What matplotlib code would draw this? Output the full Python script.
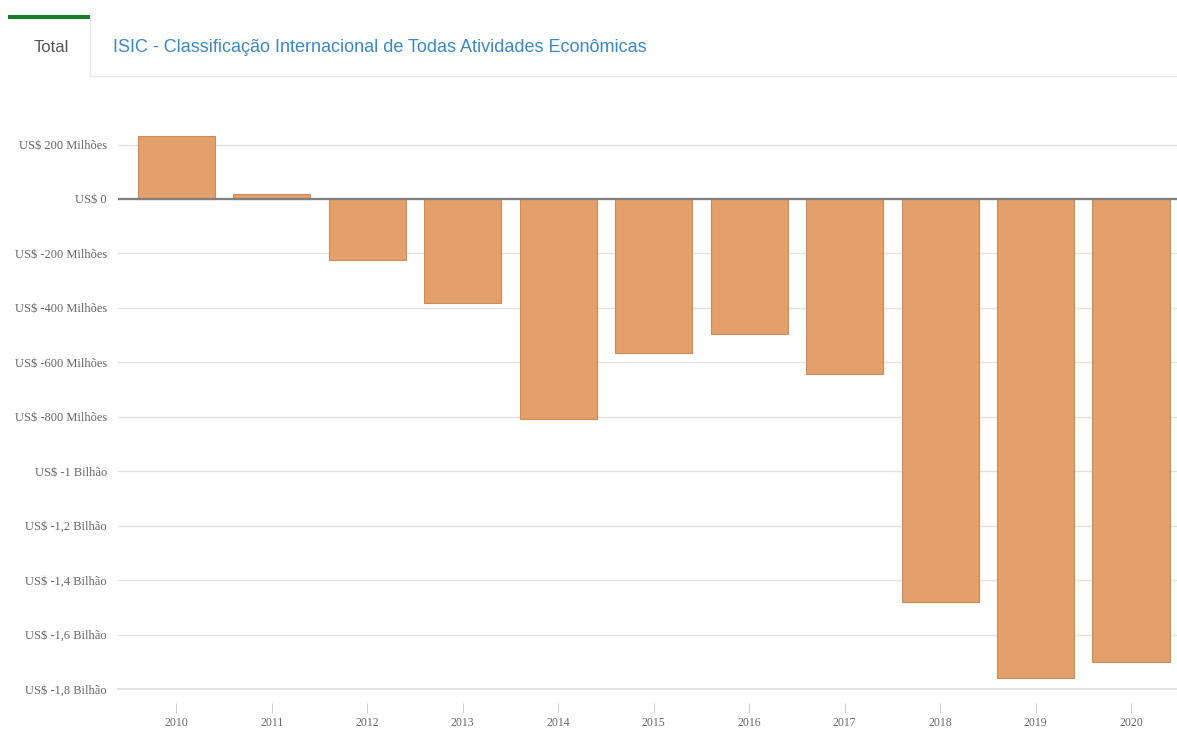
import matplotlib.pyplot as plt
from matplotlib.lines import Line2D

years = ['2010', '2011', '2012', '2013', '2014', '2015', '2016', '2017', '2018', '2019', '2020']
# saldo em milhões de US$
saldo = [232, 20, -224, -382, -809, -566, -496, -643, -1482, -1761, -1702]

ytick_vals = [200, 0, -200, -400, -600, -800, -1000, -1200, -1400, -1600, -1800]
ytick_labels = ['US$ 200 Milhões', 'US$ 0', 'US$ -200 Milhões', 'US$ -400 Milhões',
                'US$ -600 Milhões', 'US$ -800 Milhões', 'US$ -1 Bilhão', 'US$ -1,2 Bilhão',
                'US$ -1,4 Bilhão', 'US$ -1,6 Bilhão', 'US$ -1,8 Bilhão']

fig = plt.figure(figsize=(11.77, 7.42), dpi=100)
ax = fig.add_axes([118/1177, 1 - 689/742, 1 - 118/1177, (689 - 120)/742])

# spine position first (it resets the ticks)
for s in ['top', 'right', 'left']:
    ax.spines[s].set_visible(False)
ax.spines['bottom'].set_position(('outward', 10))
ax.spines['bottom'].set_visible(False)

x = list(range(len(years)))
ax.bar(x, saldo, width=0.81, color='#e3a06b', edgecolor='#c98b58', linewidth=0.8, zorder=3)

ax.set_xlim(-0.61, 10.48)
ax.set_ylim(-1800, 290)
ax.set_yticks(ytick_vals)
ax.set_yticklabels(ytick_labels, family='Liberation Serif', fontsize=9, color='#666666')
ax.set_xticks(x)
ax.set_xticklabels(years, family='Liberation Serif', fontsize=8.5, color='#666666')

ax.grid(axis='y', color='#e3e3e3', linewidth=1, zorder=0)
ax.axhline(-1800, color='#dddddd', linewidth=1.2, zorder=1, clip_on=False)
ax.axhline(0, color='#808080', linewidth=1.6, zorder=4)
ax.tick_params(axis='y', length=0, pad=8)
ax.tick_params(axis='x', length=7, width=0.8, color='#cccccc', pad=3)

# cabeçalho com abas
fig.add_artist(Line2D([10/1177, 88/1177], [1 - 17/742, 1 - 17/742], color='#1a7a2a', linewidth=3))
fig.add_artist(Line2D([90/1177, 90/1177], [1 - 18/742, 1 - 76/742], color='#e8e8e8', linewidth=1))
fig.add_artist(Line2D([90/1177, 1.0], [1 - 76/742, 1 - 76/742], color='#e8e8e8', linewidth=1))
fig.text(51/1177, 1 - 48/742, 'Total', ha='center', va='center', fontsize=12,
         family='Liberation Sans', color='#555555')
fig.text(113/1177, 1 - 48/742, 'ISIC - Classificação Internacional de Todas Atividades Econômicas',
         ha='left', va='center', fontsize=13, family='Liberation Sans', color='#3d86c6')

fig.savefig('out.png', dpi=100)
